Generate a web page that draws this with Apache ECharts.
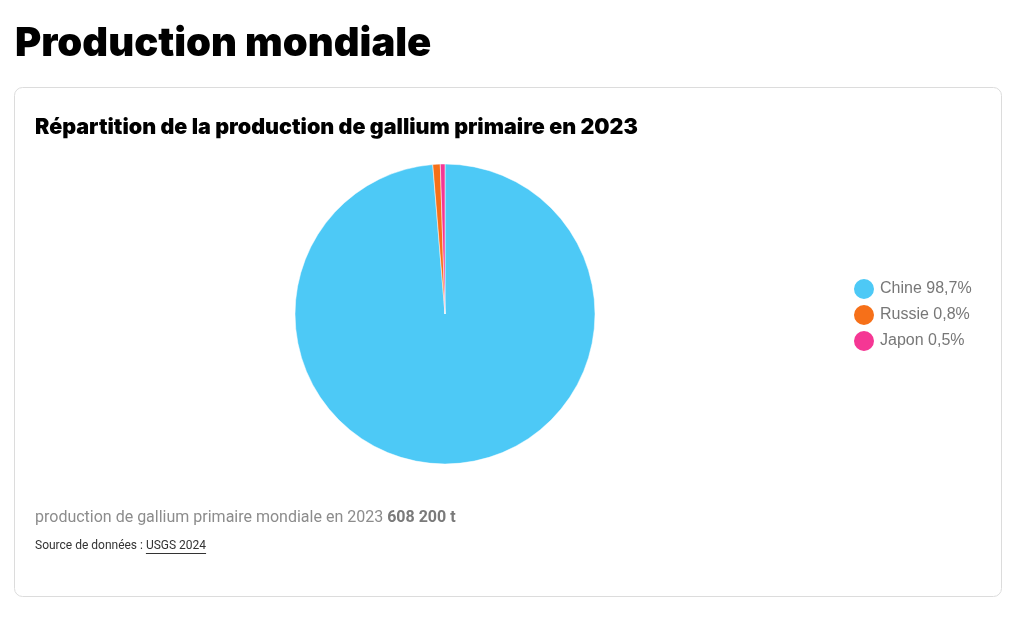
<!DOCTYPE html>
<html lang="fr">
<head>
<meta charset="utf-8">
<title>Production mondiale</title>
<script src="https://cdn.jsdelivr.net/npm/echarts@6/dist/echarts.min.js"></script>
<style>
  html, body { margin: 0; padding: 0; background: #fff; }
  #chart { width: 1028px; height: 619px; }
</style>
</head>
<body>
<div id="chart"></div>
<script>
// Parts de la production de gallium primaire, 2023 (%)
const countries = ['Chine', 'Russie', 'Japon'];
const shares = [98.7, 0.8, 0.5];
const shareLabels = ['98,7%', '0,8%', '0,5%'];
const colors = ['#4dc9f6', '#f67019', '#f53794'];

const pageTitle = 'Production mondiale';
const chartTitle = 'Répartition de la production de gallium primaire en 2023';
const totalText = 'production de gallium primaire mondiale en 2023 ';
const totalValue = '608 200 t';
const sourcePrefix = 'Source de données : ';
const sourceName = 'USGS 2024';

const chart = echarts.init(document.getElementById('chart'), null, { renderer: 'canvas' });

// width of the source prefix, used to place the underline under the link text
const ctx = document.createElement('canvas').getContext('2d');
ctx.font = '12px Roboto';
const prefixW = ctx.measureText(sourcePrefix).width;
const linkW = ctx.measureText(sourceName).width;

const srcX = 35, srcY = 540;

chart.setOption({
  animation: false,
  title: [
    {
      text: pageTitle, left: 10, top: 19,
      textStyle: { fontFamily: 'Inter', fontWeight: 900, fontSize: 40, color: '#000' }
    },
    {
      text: chartTitle, left: 30, top: 112,
      textStyle: { fontFamily: 'Inter', fontWeight: 900, fontSize: 21.5, color: '#000' }
    }
  ],
  graphic: [
    {
      type: 'rect', z: -10,
      shape: { x: 14.5, y: 87.5, width: 987, height: 509, r: 8 },
      style: { fill: '#fff', stroke: '#dcdcdc', lineWidth: 1 }
    },
    {
      type: 'text', left: 35, top: 510,
      style: {
        text: '{n|' + totalText + '}{b|' + totalValue + '}',
        rich: {
          n: { fontFamily: 'Roboto', fontSize: 16, fill: '#8c8c8c' },
          b: { fontFamily: 'Roboto', fontSize: 16, fontWeight: 'bold', fill: '#7a7a7a' }
        }
      }
    },
    {
      type: 'text', left: srcX, top: srcY,
      style: {
        text: sourcePrefix + sourceName,
        fontFamily: 'Roboto', fontSize: 12, fill: '#333'
      }
    },
    {
      type: 'line',
      shape: { x1: srcX + prefixW, y1: srcY + 13.5, x2: srcX + prefixW + linkW, y2: srcY + 13.5 },
      style: { stroke: '#333', lineWidth: 1 }
    }
  ],
  legend: {
    orient: 'vertical',
    left: 847, top: 272,
    icon: 'circle',
    itemWidth: 22, itemHeight: 22, itemGap: 2,
    data: countries,
    formatter: function (name) {
      return name + ' ' + shareLabels[countries.indexOf(name)];
    },
    textStyle: { fontFamily: 'Liberation Sans', fontSize: 16, lineHeight: 18, color: '#777' }
  },
  series: [{
    type: 'pie',
    center: [445, 314],
    radius: [0, 150],
    startAngle: 90,
    clockwise: true,
    label: { show: false },
    labelLine: { show: false },
    itemStyle: { borderColor: '#fff', borderWidth: 0.5 },
    emphasis: { disabled: true },
    data: countries.map((c, i) => ({ name: c, value: shares[i], itemStyle: { color: colors[i] } }))
  }]
});
</script>
</body>
</html>
